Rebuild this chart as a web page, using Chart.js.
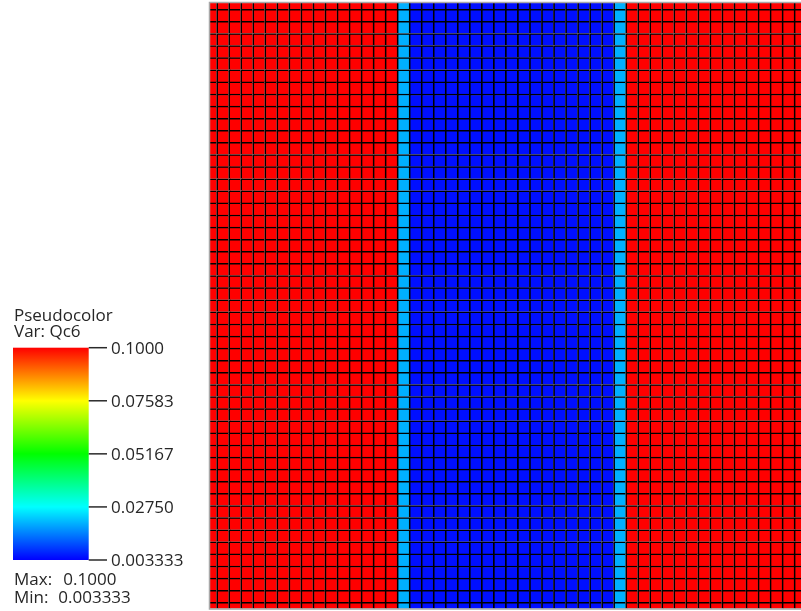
<!DOCTYPE html>
<html><head><meta charset="utf-8">
<script src="https://cdn.jsdelivr.net/npm/chart.js@4"></script>
<style>html,body{margin:0;padding:0;background:#fff;overflow:hidden}#wrap{width:801px;height:611px;position:relative}</style>
</head><body><div id="wrap"><canvas id="c" width="801" height="611"></canvas></div>
<script>
// Cell values of Qc6, one entry per mesh column (left to right); constant along each column.
const columnValues = [
  0.1, 0.1, 0.1, 0.1, 0.1, 0.1, 0.1, 0.1, 0.1, 0.1, 0.1, 0.1, 0.1, 0.1, 0.1, 0.1,
  0.0200,
  0.0048, 0.0048, 0.0048, 0.0048, 0.0048, 0.0048, 0.0048, 0.0048, 0.0048,
  0.0048, 0.0048, 0.0048, 0.0048, 0.0048, 0.0048, 0.0048, 0.0048,
  0.0200,
  0.1, 0.1, 0.1, 0.1, 0.1, 0.1, 0.1, 0.1, 0.1, 0.1, 0.1, 0.1, 0.1, 0.1, 0.1, 0.1
];
const firstColumn = -1;
const rowIndices = [-1,0,1,2,3,4,5,6,7,8,9,10,11,12,13,14,15,16,17,18,19,20,21,22,23,24,25,
  26,27,28,29,30,31,32,33,34,35,36,37,38,39,40,41,42,43,44,45,46,47,48,49];
const colorbarTicks = [0.1, 0.07583, 0.05167, 0.0275, 0.003333];
const colorbarLabels = ['0.1000', '0.07583', '0.05167', '0.02750', '0.003333'];
const varMin = 0.003333, varMax = 0.1;
const legendTitle = 'Pseudocolor';
const legendVar = 'Var: Qc6';
const maxLabel = ['Max:', '0.1000'];
const minLabel = ['Min:', '0.003333'];

const hotStops = [[0,[0,0,255]],[0.25,[0,255,255]],[0.5,[0,255,0]],[0.75,[255,255,0]],[1,[255,0,0]]];
function hot(v){
  let t = (v - varMin) / (varMax - varMin);
  t = Math.max(0, Math.min(1, t));
  for (let i = 1; i < hotStops.length; i++){
    const [t1,c1] = hotStops[i-1], [t2,c2] = hotStops[i];
    if (t <= t2){
      const f = (t - t1) / (t2 - t1);
      const c = c1.map((a,k)=>Math.round(a + (c2[k]-a)*f));
      return `rgb(${c[0]},${c[1]},${c[2]})`;
    }
  }
  return 'rgb(255,0,0)';
}

const datasets = rowIndices.map(k => ({
  data: columnValues.map((v,i) => ({x: firstColumn + i + 0.5, y: [k, k + 1]})),
  backgroundColor: columnValues.map(hot),
  borderColor: '#000',
  borderWidth: {left: 1.7, top: 1.5, right: 0, bottom: 0},
  borderSkipped: false,
  grouped: false,
  barPercentage: 1,
  categoryPercentage: 1
}));

const legendPlugin = {
  id: 'visitLegend',
  afterDraw(chart){
    const ctx = chart.ctx, a = chart.chartArea;
    ctx.save();
    // frame
    ctx.strokeStyle = '#a8a8a8';
    ctx.lineWidth = 1.5;
    ctx.beginPath();
    ctx.moveTo(a.right + 2, a.top - 0.5);
    ctx.lineTo(a.left - 0.5, a.top - 0.5);
    ctx.lineTo(a.left - 0.5, a.bottom + 0.5);
    ctx.lineTo(a.right + 2, a.bottom + 0.5);
    ctx.stroke();

    // colour bar
    const bx = 13, bw = 75.7, by0 = 347.7, by1 = 560;
    const g = ctx.createLinearGradient(0, by1, 0, by0);
    hotStops.forEach(([t,c]) => g.addColorStop(t, `rgb(${c[0]},${c[1]},${c[2]})`));
    ctx.fillStyle = g;
    ctx.fillRect(bx, by0, bw, by1 - by0);

    ctx.fillStyle = '#262626';
    ctx.strokeStyle = '#2a2a2a';
    ctx.lineWidth = 1.5;
    ctx.font = '17px "Open Sans", "Liberation Sans", sans-serif';
    ctx.textBaseline = 'middle';
    colorbarTicks.forEach((v,i) => {
      const y = by1 - (v - varMin) / (varMax - varMin) * (by1 - by0);
      ctx.beginPath();
      ctx.moveTo(bx + bw, y);
      ctx.lineTo(107, y);
      ctx.stroke();
      ctx.fillText(colorbarLabels[i], 111, y + 1);
    });

    ctx.textBaseline = 'alphabetic';
    ctx.fillText(legendTitle, 14, 320.7);
    ctx.fillText(legendVar, 14, 337.3);
    ctx.fillText(maxLabel[0], 14, 585);
    ctx.fillText(maxLabel[1], 63.3, 585);
    ctx.fillText(minLabel[0], 14, 602.5);
    ctx.fillText(minLabel[1], 58.3, 602.5);
    ctx.restore();
  }
};

new Chart(document.getElementById('c'), {
  type: 'bar',
  data: {datasets},
  options: {
    responsive: false,
    animation: false,
    events: [],
    layout: {padding: {left: 210, top: 3, right: 0, bottom: 2.5}},
    scales: {
      x: {type: 'linear', offset: false, min: -0.55, max: 48.58, display: false},
      y: {type: 'linear', min: -0.51, max: 49.52, display: false}
    },
    plugins: {legend: {display: false}, tooltip: {enabled: false}}
  },
  plugins: [legendPlugin]
});
</script></body></html>
